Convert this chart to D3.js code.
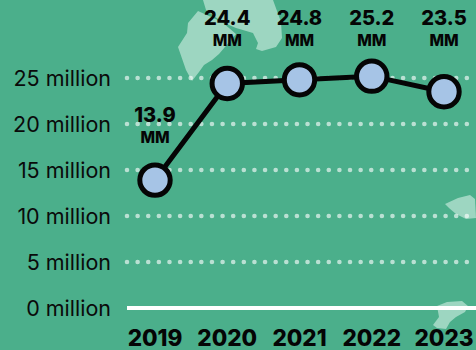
<!DOCTYPE html>
<html>
<head>
<meta charset="utf-8">
<script src="https://cdn.jsdelivr.net/npm/d3@7/dist/d3.min.js"></script>
<style>
html,body{margin:0;padding:0;background:#4baf8b;overflow:hidden}
svg{display:block}
</style>
</head>
<body>
<svg id="chart" width="476" height="350"></svg>
<script>
const years = ["2019","2020","2021","2022","2023"];
const users = [13.9,24.4,24.8,25.2,23.5];
const valueLabels = ["13.9","24.4","24.8","25.2","23.5"];
const tickValues = [0,5,10,15,20,25];

const svg = d3.select("#chart");
const x = d3.scalePoint().domain(years).range([155,444]);
const y = d3.scaleLinear().domain([0,25]).range([308,78]);

// Faint landmasses behind the plot
const land = svg.append("g").attr("fill","#9dd6c1");
[
 "M203,0L206,10L222,22L236,28L253,33L258,43L256,49L262,51L276,47L282,38L281,22L273,0Z",
 "M198,11L188,23L187,33L178,47L186,70L192,81L199,72L204,65L212,60L219,54L236,34L222,22Z",
 "M445,204L458,198L470,195L475,199L476,218L466,219L456,214L449,208Z",
 "M437,306L447,302L462,301L468,306L465,312L456,317L450,322L446,329L437,328L433,325L439,317Z"
].forEach(d => land.append("path").attr("d",d));

// Dotted grid, one row per tick above zero
svg.append("g").selectAll("line").data(tickValues.filter(d=>d>0)).join("line")
  .attr("x1",127).attr("x2",476)
  .attr("y1",d=>y(d)).attr("y2",d=>y(d))
  .attr("stroke","#ffffff").attr("stroke-opacity",.62)
  .attr("stroke-width",4.6).attr("stroke-linecap","round")
  .attr("stroke-dasharray","0 10.62");

// Baseline
svg.append("line").attr("x1",127).attr("x2",476)
  .attr("y1",y(0)).attr("y2",y(0))
  .attr("stroke","#fff").attr("stroke-width",4);

// Value axis labels
svg.append("g").selectAll("text").data(tickValues).join("text")
  .attr("x",111).attr("y",d=>y(d)+8)
  .attr("text-anchor","end")
  .attr("font-family","Inter, sans-serif").attr("font-size",21.5)
  .attr("fill","#0a0a0a")
  .text(d=>d+" million");

// Year labels
svg.append("g").selectAll("text").data(years).join("text")
  .attr("x",d=>x(d)).attr("y",346)
  .attr("text-anchor","middle")
  .attr("font-family","Inter, sans-serif").attr("font-weight",800).attr("font-size",22.5)
  .attr("fill","#050505")
  .text(d=>d);

// Trend line and markers
const line = d3.line().x((d,i)=>x(years[i])).y(d=>y(d));
svg.append("path").datum(users).attr("d",line)
  .attr("fill","none").attr("stroke","#050505").attr("stroke-width",5);
svg.append("g").selectAll("circle").data(users).join("circle")
  .attr("cx",(d,i)=>x(years[i])).attr("cy",d=>y(d)).attr("r",15.2)
  .attr("fill","#a6c4e6").attr("stroke","#050505").attr("stroke-width",5);

// Value callouts above each marker
const callouts = svg.append("g").attr("text-anchor","middle").attr("fill","#050505")
  .attr("font-family","Inter, sans-serif");
users.forEach((v,i)=>{
  const cx = x(years[i]);
  const first = i===0;
  const top = first ? 122 : 25;
  callouts.append("text").attr("x",cx).attr("y",top)
    .attr("font-weight",800).attr("font-size",20).text(valueLabels[i]);
  callouts.append("text").attr("x",cx).attr("y",top+21)
    .attr("font-weight",800).attr("font-size",15.5).text("MM");
});
</script>
</body>
</html>
